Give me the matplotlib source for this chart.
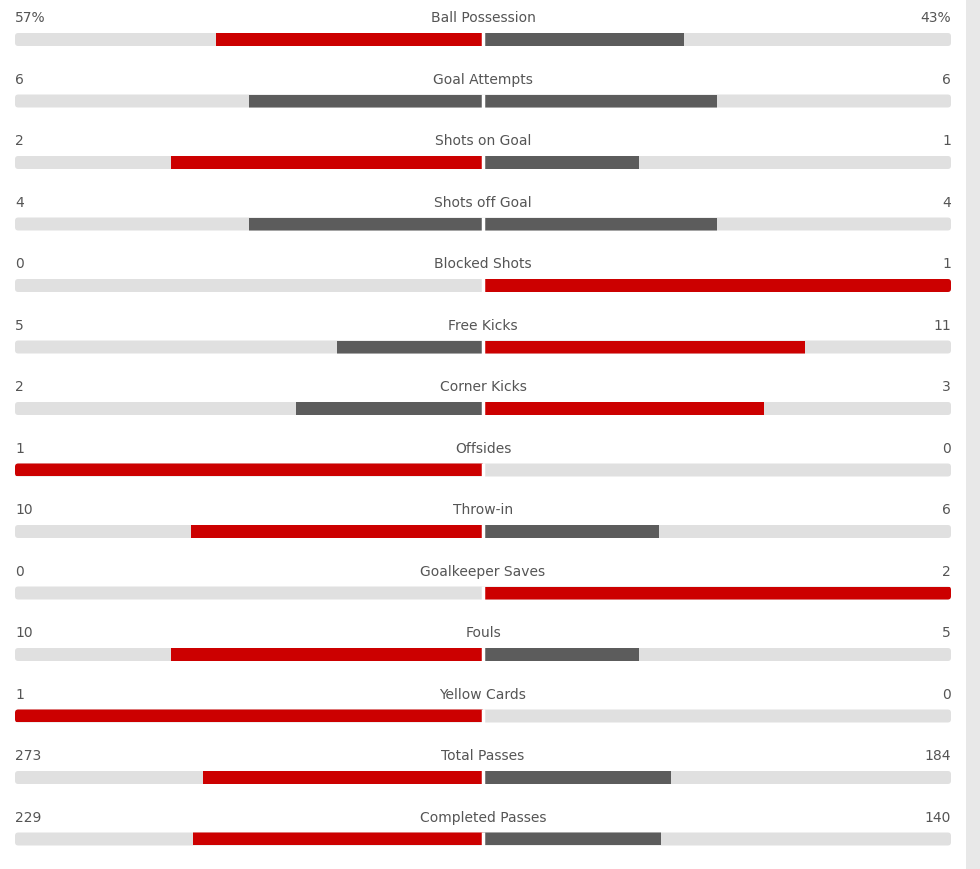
import matplotlib
matplotlib.use("Agg")
import matplotlib.pyplot as plt
from matplotlib.patches import FancyBboxPatch, Rectangle

# match stats, home side on the left
stats = ["Ball Possession", "Goal Attempts", "Shots on Goal", "Shots off Goal",
         "Blocked Shots", "Free Kicks", "Corner Kicks", "Offsides", "Throw-in",
         "Goalkeeper Saves", "Fouls", "Yellow Cards", "Total Passes",
         "Completed Passes"]
home = [57, 6, 2, 4, 0, 5, 2, 1, 10, 0, 10, 1, 273, 229]
away = [43, 6, 1, 4, 1, 11, 3, 0, 6, 2, 5, 0, 184, 140]
home_labels = ["57%", "6", "2", "4", "0", "5", "2", "1", "10", "0", "10", "1", "273", "229"]
away_labels = ["43%", "6", "1", "4", "1", "11", "3", "0", "6", "2", "5", "0", "184", "140"]

RED = "#cc0000"
GREY = "#5c5c5c"
TRACK = "#e0e0e0"
TXT = "#555555"

W, H = 980, 870
cx, half = 483, 468          # centre and half width of a track in px
row0, step = 40.5, 61.5      # first bar centre and row spacing in px

fig = plt.figure(figsize=(W / 100, H / 100), dpi=100)
ax = fig.add_axes([0, 0, 1, 1])
ax.set_xlim(-cx / half, (W - cx) / half)
ax.set_ylim((H - row0) / step, -row0 / step)
ax.axis("off")

# scrollbar strip at the right edge
fig.patches.append(Rectangle((966 / W, 0), 14 / W, 1, transform=fig.transFigure,
                             facecolor="#e8e8e8", edgecolor="none"))

bh = 13 / step
for i, name in enumerate(stats):
    h, a = home[i], away[i]
    tot = h + a
    fh = h / tot if tot else 0
    fa = a / tot if tot else 0
    if h > a:
        ch, ca = RED, GREY
    elif a > h:
        ch, ca = GREY, RED
    else:
        ch, ca = GREY, GREY

    track = FancyBboxPatch((-1, i - bh / 2), 2, bh,
                           boxstyle="round,pad=0,rounding_size=0.007",
                           mutation_aspect=half / step,
                           facecolor=TRACK, edgecolor="none", zorder=1)
    ax.add_patch(track)
    for b in ax.barh(i, -fh, height=bh, left=0, color=ch, zorder=2):
        b.set_clip_path(track)
    for b in ax.barh(i, fa, height=bh, left=0, color=ca, zorder=2):
        b.set_clip_path(track)
    # white gap between the two halves
    ax.vlines(0, i - bh / 2 - 0.01, i + bh / 2 + 0.01, color="white", linewidth=2.5, zorder=3)

    ty = i - 18 / step
    ax.text(-1, ty, home_labels[i], ha="left", va="baseline", fontsize=10, color=TXT)
    ax.text(1, ty, away_labels[i], ha="right", va="baseline", fontsize=10, color=TXT)
    ax.text(0, ty, name, ha="center", va="baseline", fontsize=10, color=TXT)

fig.savefig("out.png", dpi=100, facecolor="white")
